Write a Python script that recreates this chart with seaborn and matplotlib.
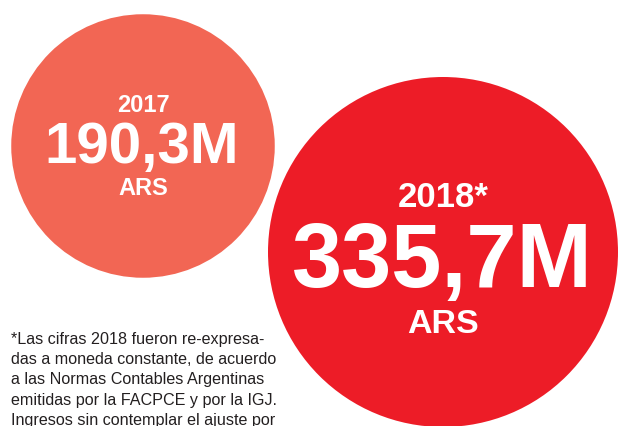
import matplotlib
matplotlib.use('Agg')
import matplotlib.pyplot as plt
import seaborn as sns
import numpy as np
import pandas as pd

# Values shown in the chart (millions of ARS)
years = ['2017', '2018*']
revenue = [190.3, 335.7]
value_labels = ['190,3M', '335,7M']
currency = 'ARS'
colors = ['#F26654', '#ED1C27']

footnote = [
    '*Las cifras 2018 fueron re-expresa-',
    'das a moneda constante, de acuerdo',
    'a las Normas Contables Argentinas',
    'emitidas por la FACPCE y por la IGJ.',
    'Ingresos sin contemplar el ajuste por',
]

W, H, DPI = 618, 426, 100

sns.set_theme(style='white')
plt.rcParams['font.family'] = ['Liberation Sans', 'DejaVu Sans']

fig = plt.figure(figsize=(W / DPI, H / DPI), dpi=DPI)
ax = fig.add_axes([0, 0, 1, 1])

# bubble area proportional to the value; radius in pixels
px_per_sqrt = 175 / np.sqrt(max(revenue))
radius_px = px_per_sqrt * np.sqrt(np.array(revenue))
size_pt2 = (2 * radius_px * 72 / DPI) ** 2

df = pd.DataFrame({
    'year': years,
    'x': [143, 443],
    'y': [146, 252],
    'size': size_pt2,
})

sns.scatterplot(data=df, x='x', y='y', hue='year', palette=colors,
                s=df['size'].values, linewidth=0, legend=False, ax=ax,
                zorder=1)
ax.set_xlim(0, W)
ax.set_ylim(H, 0)
ax.axis('off')

# labels inside the bubbles
small = [17, 25]
big = [42, 65]
unit = [17, 24.5]
base_year = [112, 207]
base_value = [163, 287]
base_unit = [195, 333]
for i in range(len(years)):
    cx = df['x'][i]
    ax.text(cx, base_year[i], years[i], color='white', fontsize=small[i],
            fontweight='bold', ha='center', va='baseline')
    ax.text(cx - 1, base_value[i], value_labels[i], color='white',
            fontsize=big[i], fontweight='bold', ha='center', va='baseline')
    ax.text(cx, base_unit[i], currency, color='white', fontsize=unit[i],
            fontweight='bold', ha='center', va='baseline')

# footnote
for j, line in enumerate(footnote):
    ax.text(11, 344 + j * 20.2, line, color='#231F20', fontsize=11.6,
            ha='left', va='baseline')

fig.savefig('out.png', dpi=DPI)
